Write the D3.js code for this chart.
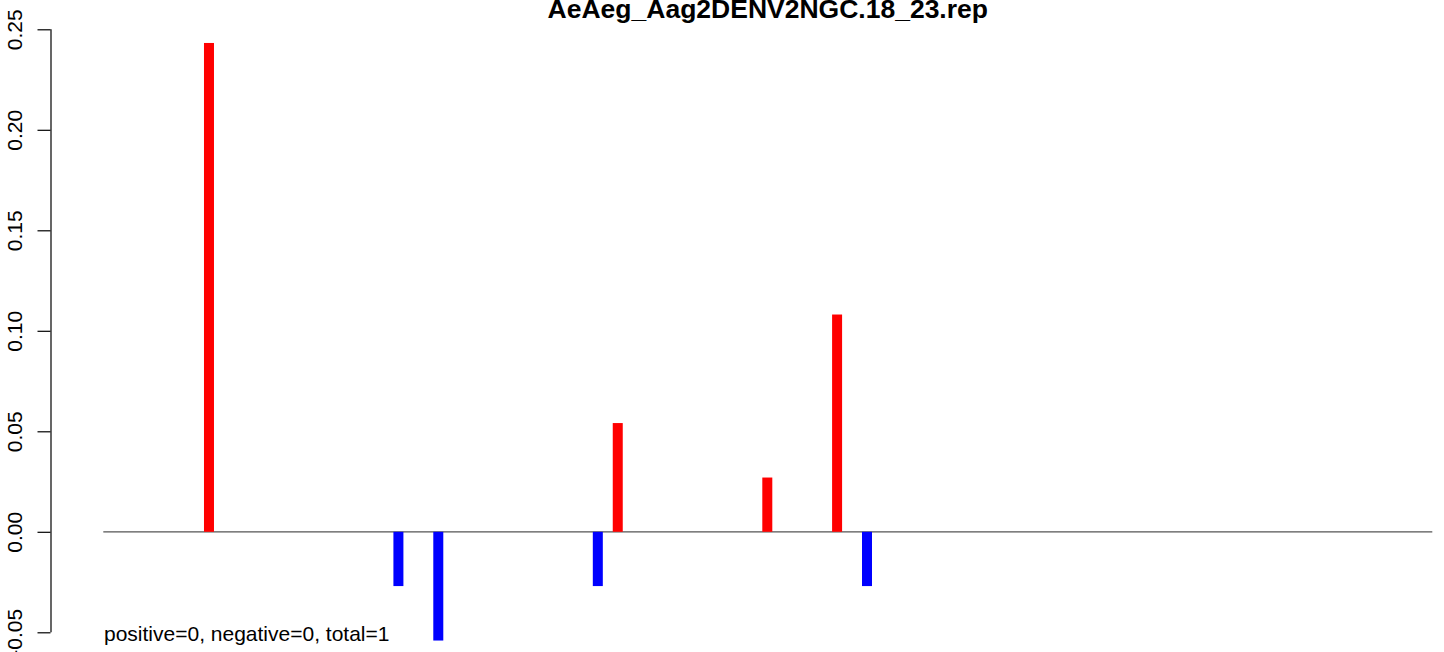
<!DOCTYPE html>
<html>
<head>
<meta charset="utf-8">
<script src="https://cdn.jsdelivr.net/npm/d3@7"></script>
<style>
  html, body { margin: 0; padding: 0; background: #fff; }
  svg { display: block; }
</style>
</head>
<body>
<svg id="chart" width="1444" height="652"></svg>
<script>
// ---- data ----
const title = "AeAeg_Aag2DENV2NGC.18_23.rep";
const positions = [11, 30, 34, 50, 52, 67, 74, 77];
const values = [0.2432, -0.0270, -0.0541, -0.0270, 0.0541, 0.0270, 0.1081, -0.0270];
const yTicks = [-0.05, 0.00, 0.05, 0.10, 0.15, 0.20, 0.25];
const yTickLabels = ["-0.05", "0.00", "0.05", "0.10", "0.15", "0.20", "0.25"];
const footnote = "positive=0, negative=0, total=1";

// ---- layout ----
const W = 1444, H = 652;
const plot = { left: 103.3, right: 1432.3, top: 29.3, bottom: 632.3 };
const axisX = 50.5;
const font = "'Liberation Sans', Arial, Helvetica, sans-serif";

const svg = d3.select("#chart");

const x = d3.scaleLinear().domain([0.4, 133.7]).range([plot.left, plot.right]);
const y = d3.scaleLinear().domain([-0.05, 0.25]).range([plot.bottom, plot.top]);

// title
svg.append("text")
  .attr("x", (plot.left + plot.right) / 2)
  .attr("y", 17.5)
  .attr("text-anchor", "middle")
  .attr("font-family", font)
  .attr("font-weight", "bold")
  .attr("font-size", 26.5)
  .text(title);

// zero line
svg.append("line")
  .attr("x1", plot.left).attr("x2", plot.right)
  .attr("y1", y(0)).attr("y2", y(0))
  .attr("stroke", "#555").attr("stroke-width", 1.2);

// bars
svg.selectAll("rect.bar")
  .data(positions.map((p, i) => ({ p, v: values[i] })))
  .enter().append("rect")
  .attr("class", "bar")
  .attr("x", d => x(d.p) - 5)
  .attr("width", 10)
  .attr("y", d => Math.min(y(d.v), y(0)))
  .attr("height", d => Math.abs(y(d.v) - y(0)))
  .attr("fill", d => d.v >= 0 ? "#ff0000" : "#0000ff");

// y axis
const yAxis = d3.axisLeft(y)
  .tickValues(yTicks)
  .tickFormat((d, i) => yTickLabels[i])
  .tickSize(13)
  .tickSizeOuter(0);

const g = svg.append("g")
  .attr("transform", `translate(${axisX},0)`)
  .call(yAxis);
g.select(".domain").attr("stroke", "#000").attr("stroke-width", 1.2)
  .attr("d", `M0.5,${y(0.25)}V${y(-0.05)}`);
g.selectAll(".tick line").attr("stroke", "#000").attr("stroke-width", 1.2);
g.selectAll(".tick text")
  .attr("font-family", font)
  .attr("font-size", 21)
  .attr("fill", "#000")
  .attr("text-anchor", "middle")
  .attr("dy", 0)
  .attr("x", 0)
  .attr("transform", "translate(-29,0) rotate(-90)");

// footnote
svg.append("text")
  .attr("x", 104)
  .attr("y", 641)
  .attr("font-family", font)
  .attr("font-size", 21)
  .text(footnote);
</script>
</body>
</html>
